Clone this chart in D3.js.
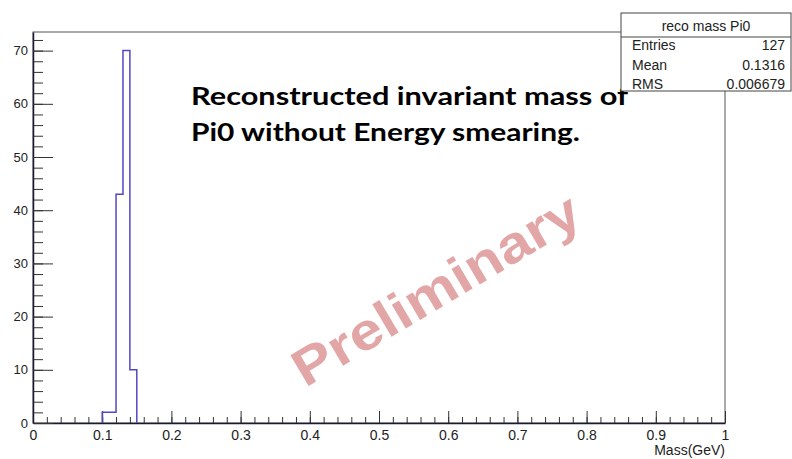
<!DOCTYPE html>
<html>
<head>
<meta charset="utf-8">
<script src="https://cdn.jsdelivr.net/npm/d3@7"></script>
<style>
  body { margin: 0; background: #fff; }
  svg { display: block; }
</style>
</head>
<body>
<svg id="chart"></svg>
<script>
// histogram contents: lower edge of each filled bin and its count
var binLow = [0.10, 0.11, 0.12, 0.13, 0.14];
var counts = [2, 2, 43, 70, 10];
var binWidth = 0.01;

var xTicks = [0, 0.1, 0.2, 0.3, 0.4, 0.5, 0.6, 0.7, 0.8, 0.9, 1];
var yTicks = [0, 10, 20, 30, 40, 50, 60, 70];

var statsTitle = 'reco mass Pi0';
var statsLabels = ['Entries', 'Mean', 'RMS'];
var statsValues = ['127', '0.1316', '0.006679'];

var width = 792;
var height = 459;

var svg = d3.select('#chart')
    .attr('width', width)
    .attr('height', height);

var x = d3.scaleLinear().domain([0, 1]).range([33, 725]);
var y = d3.scaleLinear().domain([0, 73.5]).range([423, 32]);

// frame
svg.append('rect')
    .attr('x', x(0))
    .attr('y', y(73.5))
    .attr('width', x(1) - x(0))
    .attr('height', y(0) - y(73.5))
    .attr('fill', 'none')
    .attr('stroke', '#555')
    .attr('stroke-width', 1);

// minor ticks (ROOT style: ticks point into the frame)
svg.append('g')
    .attr('transform', 'translate(0,' + y(0) + ')')
    .call(d3.axisBottom(x).tickValues(d3.range(0, 1.001, 0.02)).tickSize(-6).tickFormat(''))
    .call(g => g.select('.domain').remove())
    .selectAll('line').attr('stroke', '#333');

svg.append('g')
    .attr('transform', 'translate(' + x(0) + ',0)')
    .call(d3.axisLeft(y).tickValues(d3.range(0, 73, 2)).tickSize(-10).tickFormat(''))
    .call(g => g.select('.domain').remove())
    .selectAll('line').attr('stroke', '#333');

// major ticks with labels
var xAxis = svg.append('g')
    .attr('transform', 'translate(0,' + y(0) + ')')
    .call(d3.axisBottom(x).tickValues(xTicks).tickSizeInner(-12).tickSizeOuter(0).tickPadding(7)
      .tickFormat(d => d === 0 || d === 1 ? d3.format('d')(d) : d3.format('.1f')(d)));
xAxis.select('.domain').attr('stroke', '#1a1a33').attr('stroke-width', 1.5);
xAxis.selectAll('line').attr('stroke', '#333');
xAxis.selectAll('text')
    .attr('fill', '#222')
    .style('font-family', '"Liberation Sans", Arial, sans-serif')
    .style('font-size', '14px');

var yAxis = svg.append('g')
    .attr('transform', 'translate(' + x(0) + ',0)')
    .call(d3.axisLeft(y).tickValues(yTicks).tickSizeInner(-20).tickSizeOuter(0).tickPadding(5));
yAxis.select('.domain').attr('stroke', '#1a1a33').attr('stroke-width', 1.5);
yAxis.selectAll('line').attr('stroke', '#333');
yAxis.selectAll('text')
    .attr('fill', '#222')
    .style('font-family', '"Liberation Sans", Arial, sans-serif')
    .style('font-size', '13px');

// axis title
svg.append('text')
    .attr('x', x(1))
    .attr('y', 455)
    .attr('text-anchor', 'end')
    .attr('fill', '#222')
    .style('font-family', '"Liberation Sans", Arial, sans-serif')
    .style('font-size', '14px')
    .text('Mass(GeV)');

// histogram outline as a step line
var pts = [[binLow[0], 0]];
for (var i = 0; i < binLow.length; i++) {
  pts.push([binLow[i], counts[i]]);
}
pts.push([binLow[binLow.length - 1] + binWidth, 0]);

var step = d3.line()
    .x(d => x(d[0]))
    .y(d => y(d[1]))
    .curve(d3.curveStepAfter);

svg.append('path')
    .attr('d', step(pts))
    .attr('fill', 'none')
    .attr('stroke', '#5248c4')
    .attr('stroke-width', 1.5);

// annotation text
var note = svg.append('g')
    .style('font-family', 'Lato, "Open Sans", sans-serif')
    .style('font-weight', 'bold')
    .style('font-size', '24px')
    .attr('fill', '#000');
note.append('text').attr('x', 191).attr('y', 105)
    .attr('textLength', 437).attr('lengthAdjust', 'spacingAndGlyphs')
    .text('Reconstructed invariant  mass of');
note.append('text').attr('x', 191).attr('y', 141)
    .attr('textLength', 389).attr('lengthAdjust', 'spacingAndGlyphs')
    .text('Pi0 without Energy smearing.');

// watermark
svg.append('text')
    .attr('transform', 'translate(445,305) rotate(-30.7)')
    .attr('text-anchor', 'middle')
    .attr('fill', '#e3a6a6')
    .attr('textLength', 325).attr('lengthAdjust', 'spacingAndGlyphs')
    .style('font-family', '"Liberation Sans", Arial, sans-serif')
    .style('font-weight', 'bold')
    .style('font-size', '52px')
    .text('Preliminary');

// stats box
var box = svg.append('g');
box.append('rect')
    .attr('x', 621).attr('y', 13)
    .attr('width', 170).attr('height', 78)
    .attr('fill', '#fff')
    .attr('stroke', '#444');
box.append('line')
    .attr('x1', 621).attr('x2', 791)
    .attr('y1', 37).attr('y2', 37)
    .attr('stroke', '#444');
box.append('text')
    .attr('x', 706).attr('y', 31)
    .attr('text-anchor', 'middle')
    .text(statsTitle);
box.selectAll('.lab')
  .data(statsLabels)
  .enter()
  .append('text')
    .attr('x', 632)
    .attr('y', (d, i) => 50 + i * 19.5)
    .text(d => d);
box.selectAll('.val')
  .data(statsValues)
  .enter()
  .append('text')
    .attr('x', 785)
    .attr('y', (d, i) => 50 + i * 19.5)
    .attr('text-anchor', 'end')
    .text(d => d);
box.selectAll('text')
    .attr('fill', '#222')
    .style('font-family', '"Liberation Sans", Arial, sans-serif')
    .style('font-size', '14px');
</script>
</body>
</html>
